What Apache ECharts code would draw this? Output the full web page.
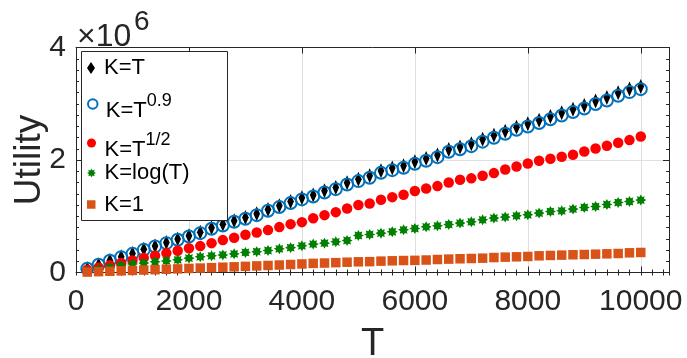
<!DOCTYPE html>
<html>
<head>
<meta charset="utf-8">
<script src="https://cdn.jsdelivr.net/npm/echarts@6/dist/echarts.min.js"></script>
<style>html,body{margin:0;padding:0;background:#fff;overflow:hidden}#c{width:687px;height:358px}</style>
</head>
<body>
<div id="c"></div>
<script>
// ---- data (utility values in units of 10^6) ----
const T = [200,400,600,800,1000,1200,1400,1600,1800,2000,2200,2400,2600,2800,3000,3200,3400,3600,3800,4000,4200,4400,4600,4800,5000,5200,5400,5600,5800,6000,6200,6400,6600,6800,7000,7200,7400,7600,7800,8000,8200,8400,8600,8800,9000,9200,9400,9600,9800,10000];
const xTicks = [0,2000,4000,6000,8000,10000];
const yTicks = [0,2,4];
const seriesNames = ['K=T','K=T^0.9','K=T^1/2','K=log(T)','K=1'];
const kT = [0.068,0.140,0.213,0.280,0.340,0.412,0.473,0.535,0.595,0.655,0.717,0.795,0.856,0.922,0.977,1.043,1.121,1.188,1.261,1.328,1.380,1.452,1.513,1.597,1.658,1.718,1.808,1.857,1.898,1.970,2.025,2.091,2.187,2.232,2.289,2.370,2.440,2.512,2.584,2.644,2.707,2.774,2.841,2.904,2.969,3.049,3.113,3.197,3.264,3.307];
const kT09 = [0.066,0.137,0.208,0.273,0.332,0.403,0.462,0.522,0.581,0.640,0.700,0.777,0.836,0.901,0.955,1.020,1.097,1.163,1.234,1.300,1.351,1.422,1.482,1.564,1.625,1.684,1.772,1.820,1.861,1.932,1.986,2.051,2.146,2.190,2.246,2.326,2.395,2.466,2.537,2.596,2.658,2.724,2.790,2.852,2.916,2.995,3.058,3.141,3.207,3.260];
const kSqrt = [0.050,0.090,0.130,0.170,0.215,0.260,0.300,0.345,0.386,0.430,0.469,0.522,0.576,0.617,0.670,0.711,0.754,0.807,0.860,0.895,0.963,1.020,1.073,1.138,1.199,1.228,1.294,1.340,1.381,1.450,1.494,1.536,1.600,1.648,1.674,1.719,1.767,1.831,1.884,1.938,1.986,2.021,2.057,2.092,2.151,2.204,2.252,2.306,2.354,2.418];
const kLog = [0.030,0.060,0.090,0.120,0.150,0.167,0.190,0.205,0.226,0.255,0.279,0.297,0.312,0.332,0.356,0.370,0.391,0.421,0.442,0.475,0.505,0.522,0.546,0.569,0.658,0.676,0.700,0.724,0.759,0.782,0.812,0.830,0.853,0.878,0.901,0.937,0.967,0.985,1.008,1.026,1.056,1.084,1.097,1.127,1.156,1.173,1.209,1.244,1.262,1.287];
const k1 = [0.008,0.015,0.022,0.029,0.036,0.043,0.050,0.057,0.064,0.072,0.079,0.086,0.094,0.101,0.109,0.117,0.125,0.133,0.142,0.152,0.162,0.168,0.175,0.183,0.190,0.193,0.202,0.208,0.213,0.216,0.222,0.231,0.238,0.244,0.249,0.255,0.266,0.273,0.279,0.285,0.297,0.303,0.309,0.315,0.320,0.326,0.332,0.338,0.350,0.356];

// ---- style ----
const FONT = '"Liberation Sans", Arial, Helvetica, sans-serif';
const TXT = '#262626';
const AX = '#262626';
function starPath(n, R, r) {
  let p = '';
  for (let k = 0; k < 2 * n; k++) {
    const a = Math.PI * k / n - Math.PI / 2;
    const rad = k % 2 ? r : R;
    p += (k ? 'L' : 'M') + (R + rad * Math.cos(a)).toFixed(2) + ',' + (R + rad * Math.sin(a)).toFixed(2);
  }
  return 'path://' + p + 'Z';
}
const STAR = starPath(8, 10, 6.2);
const DIAMOND = 'path://M5,0L10,7.5L5,15L0,7.5Z';
const SQUARE = 'path://M0,0L10,0L10,10L0,10Z';

const styles = [
  {symbol: DIAMOND, size: [10, 15], item: {color: '#000000', opacity: 1}},
  {symbol: 'circle', size: 12, item: {color: 'rgba(0,0,0,0)', borderColor: '#0072BD', borderWidth: 2, opacity: 1}},
  {symbol: 'circle', size: 10.5, item: {color: '#FF0000', opacity: 1}},
  {symbol: STAR, size: 11, item: {color: '#008000', opacity: 1}},
  {symbol: SQUARE, size: 9.5, item: {color: '#D95319', opacity: 1}}
];
const dataArrays = [kT, kT09, kSqrt, kLog, k1];

const series = seriesNames.map((nm, i) => ({
  name: nm, type: 'scatter', xAxisIndex: 0, yAxisIndex: 0,
  symbol: styles[i].symbol, symbolSize: styles[i].size, symbolKeepAspect: true,
  itemStyle: styles[i].item,
  emphasis: {disabled: true},
  data: T.map((t, j) => [t, dataArrays[i][j]]),
  z: 2 + i * 0.01
}));

// legend rows: one legend component per row
const legendText = {
  'K=T': '{c|K=T}',
  'K=T^0.9': '{m|K=T}{s|0.9}',
  'K=T^1/2': '{m|K=T}{s|1/2}',
  'K=log(T)': '{c|K=log(T)}',
  'K=1': '{c|K=1}'
};
const rowCenters = [68, 101, 140, 173, 204.5];
const legIcon = [
  {icon: DIAMOND, h: 12, style: {color: '#000000', borderWidth: 0, opacity: 1}},
  {icon: 'circle', h: 9.5, style: {color: 'rgba(0,0,0,0)', borderColor: '#0072BD', borderWidth: 2, opacity: 1}},
  {icon: 'circle', h: 9, style: {color: '#FF0000', borderWidth: 0, opacity: 1}},
  {icon: STAR, h: 9, style: {color: '#008000', borderWidth: 0, opacity: 1}},
  {icon: SQUARE, h: 8.5, style: {color: '#D95319', borderWidth: 0, opacity: 1}}
];
const LH = 30;
const legends = seriesNames.map((nm, i) => ({
  show: true, orient: 'vertical', left: 87, top: rowCenters[i] - LH / 2,
  padding: 0, itemWidth: 16, itemHeight: legIcon[i].h, selectedMode: false, z: 6,
  data: [{name: nm, icon: legIcon[i].icon, itemStyle: legIcon[i].style}],
  formatter: n => legendText[n],
  textStyle: {
    color: '#000', fontFamily: FONT, fontSize: 22, lineHeight: LH,
    rich: {
      c: {fontFamily: FONT, fontSize: 22, lineHeight: LH, color: '#000'},
      m: {fontFamily: FONT, fontSize: 22, lineHeight: LH, padding: [14, 0, 0, 0], color: '#000'},
      s: {fontFamily: FONT, fontSize: 18, lineHeight: LH, padding: [0, 0, 6, 0], color: '#000'}
    }
  }
}));

const baseX = {type: 'value', min: 0, max: 10500, gridIndex: 0};
const baseY = {type: 'value', min: 0, max: 4, gridIndex: 0};
const option = {
  animation: false,
  backgroundColor: '#ffffff',
  grid: {left: 76, right: 18, top: 47.5, bottom: 85.5, containLabel: false, outerBoundsMode: 'none'},
  xAxis: [
    Object.assign({}, baseX, {
      position: 'bottom', interval: 2000,
      name: 'T', nameLocation: 'middle', nameGap: 53, nameMoveOverlap: false,
      nameTextStyle: {fontFamily: FONT, fontSize: 38, color: TXT},
      axisLine: {show: true, onZero: false, lineStyle: {color: AX, width: 1}},
      axisTick: {show: true, inside: true, length: 6, lineStyle: {color: AX}},
      axisLabel: {show: true, margin: 14, showMaxLabel: false, fontFamily: FONT, fontSize: 30, color: TXT,
        formatter: v => (xTicks.indexOf(v) >= 0 ? String(v) : '')},
      splitLine: {show: true, lineStyle: {color: '#dfdfdf', width: 1}}
    }),
    Object.assign({}, baseX, {
      position: 'bottom', interval: 200,
      axisLine: {show: false}, axisLabel: {show: false}, splitLine: {show: false},
      axisTick: {show: true, inside: true, length: 3, lineStyle: {color: AX}}
    }),
    Object.assign({}, baseX, {
      position: 'top', interval: 2000,
      axisLine: {show: true, onZero: false, lineStyle: {color: AX, width: 1}},
      axisLabel: {show: false}, splitLine: {show: false},
      axisTick: {show: true, inside: true, length: 6, lineStyle: {color: AX}}
    }),
    Object.assign({}, baseX, {
      position: 'top', interval: 200,
      axisLine: {show: false}, axisLabel: {show: false}, splitLine: {show: false},
      axisTick: {show: true, inside: true, length: 3, lineStyle: {color: AX}}
    })
  ],
  yAxis: [
    Object.assign({}, baseY, {
      position: 'left', interval: 2,
      name: 'Utility', nameLocation: 'middle', nameGap: 28, nameRotate: 90, nameMoveOverlap: false,
      nameTextStyle: {fontFamily: FONT, fontSize: 37, color: TXT},
      axisLine: {show: true, onZero: false, lineStyle: {color: AX, width: 1}},
      axisTick: {show: true, inside: true, length: 6, lineStyle: {color: AX}},
      minorTick: {show: true, splitNumber: 10, length: 3, lineStyle: {color: AX}},
      axisLabel: {show: true, margin: 10, fontFamily: FONT, fontSize: 30, color: TXT,
        formatter: v => (yTicks.indexOf(v) >= 0 ? String(v) : '')},
      splitLine: {show: true, lineStyle: {color: '#dfdfdf', width: 1}}
    }),
    Object.assign({}, baseY, {
      position: 'right', interval: 2,
      axisLine: {show: true, onZero: false, lineStyle: {color: AX, width: 1}},
      axisTick: {show: true, inside: true, length: 6, lineStyle: {color: AX}},
      minorTick: {show: true, splitNumber: 10, length: 3, lineStyle: {color: AX}},
      axisLabel: {show: false}, splitLine: {show: false}
    })
  ],
  legend: legends,
  graphic: [
    {type: 'rect', z: 5, left: 81, top: 51, shape: {x: 0, y: 0, width: 146, height: 169},
      style: {fill: '#ffffff', stroke: '#262626', lineWidth: 1}},
    {type: 'text', z: 5, left: 77, top: 21,
      style: {text: '×10', fontFamily: FONT, fontSize: 32, fill: TXT}},
    {type: 'text', z: 5, left: 134, top: 8,
      style: {text: '6', fontFamily: FONT, fontSize: 28, fill: TXT}}
  ],
  series: series
};
const chart = echarts.init(document.getElementById('c'), null, {renderer: 'canvas'});
chart.setOption(option);
</script>
</body>
</html>
